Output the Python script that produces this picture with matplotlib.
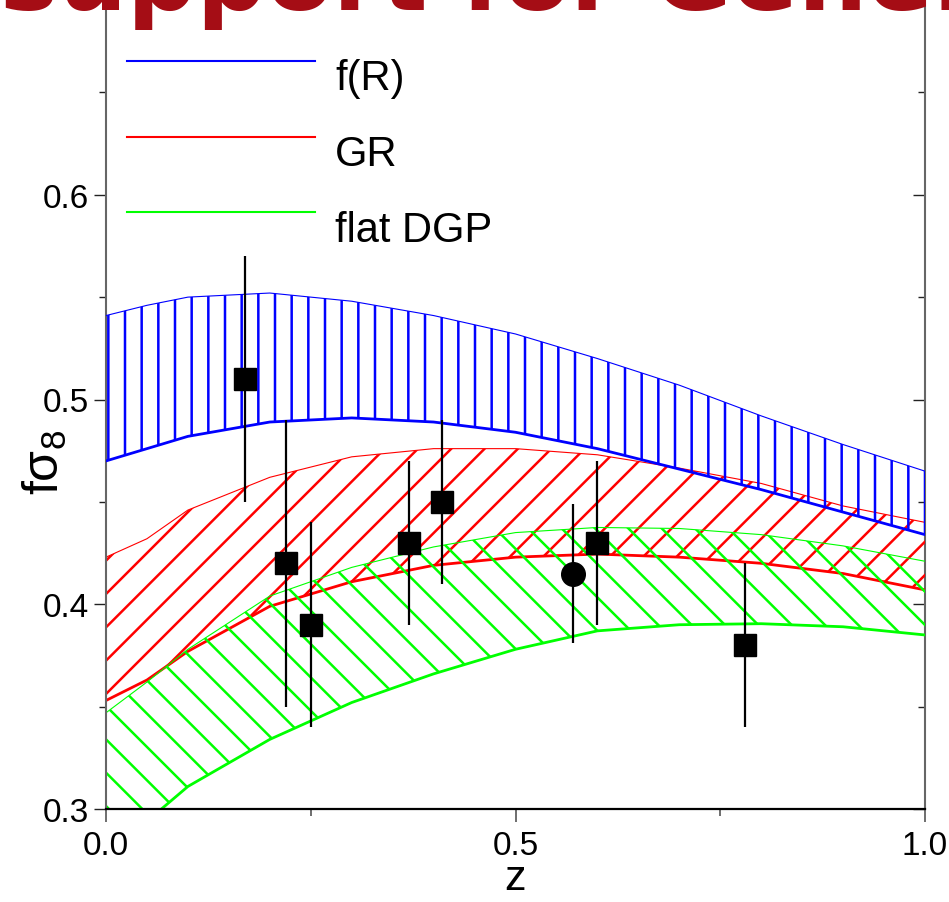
import numpy as np
import matplotlib
matplotlib.use('Agg')
import matplotlib.pyplot as plt
from matplotlib.lines import Line2D
from matplotlib.legend_handler import HandlerLine2D
from matplotlib.ticker import FixedLocator, FormatStrFormatter, MultipleLocator

plt.rcParams['font.family'] = ['Liberation Sans', 'DejaVu Sans']
plt.rcParams['mathtext.fontset'] = 'custom'
plt.rcParams['mathtext.rm'] = 'Liberation Sans'
plt.rcParams['mathtext.it'] = 'Liberation Sans:italic'
plt.rcParams['hatch.linewidth'] = 1.8

# redshift grid of the model predictions
z_grid = [0.0, 0.05, 0.1, 0.2, 0.3, 0.4, 0.5, 0.6, 0.7, 0.8, 0.9, 1.0]

# f(R) band
fr_hi = [0.541, 0.546, 0.550, 0.552, 0.548, 0.541, 0.532, 0.520, 0.507, 0.492, 0.478, 0.465]
fr_lo = [0.470, 0.476, 0.482, 0.489, 0.491, 0.489, 0.484, 0.476, 0.466, 0.456, 0.445, 0.434]

# GR band
gr_hi = [0.423, 0.432, 0.446, 0.462, 0.472, 0.476, 0.476, 0.473, 0.4665, 0.459, 0.448, 0.440]
gr_lo = [0.353, 0.363, 0.377, 0.399, 0.411, 0.419, 0.423, 0.4245, 0.423, 0.420, 0.415, 0.407]

# flat DGP band
dgp_hi = [0.347, 0.362, 0.378, 0.404, 0.418, 0.428, 0.435, 0.4375, 0.437, 0.434, 0.4285, 0.421]
dgp_lo = [0.280, 0.294, 0.311, 0.334, 0.352, 0.366, 0.378, 0.387, 0.390, 0.3905, 0.389, 0.385]

# growth measurements
sq_z = [0.17, 0.22, 0.25, 0.37, 0.41, 0.60, 0.78]
sq_f = [0.51, 0.42, 0.39, 0.43, 0.45, 0.43, 0.38]
sq_err = [0.06, 0.07, 0.05, 0.04, 0.04, 0.04, 0.04]
circ_z = [0.57]
circ_f = [0.415]
circ_err = [0.034]

labels = ['f(R)', 'GR', 'flat DGP']
colors = ['#0000ff', '#ff0000', '#00ff00']

y_major = [0.3, 0.4, 0.5, 0.6]
y_minor = [0.35, 0.45, 0.55, 0.65]


class RaisedLine(HandlerLine2D):
    # legend line sits a bit above the middle of its label
    def create_artists(self, legend, orig_handle, xdescent, ydescent,
                       width, height, fontsize, trans):
        arts = super().create_artists(legend, orig_handle, xdescent, ydescent,
                                      width, height, fontsize, trans)
        for a in arts:
            if hasattr(a, 'set_ydata'):
                a.set_ydata(np.asarray(a.get_ydata()) + 0.33 * fontsize)
        return arts


fig = plt.figure(figsize=(9.49, 9.03), dpi=100)
ax = fig.add_axes([106 / 949, 93 / 903, 819 / 949, 819 / 903])


def band(lo, hi, color, hatch, zo):
    ax.fill_between(z_grid, lo, hi, facecolor='none', edgecolor=color,
                    hatch=hatch, linewidth=0, zorder=zo)
    ax.plot(z_grid, hi, color=color, lw=0.8, zorder=zo)
    ax.plot(z_grid, lo, color=color, lw=2.0, zorder=zo)


band(gr_lo, gr_hi, colors[1], '/', 1)
band(dgp_lo, dgp_hi, colors[2], '\\', 2)
band(fr_lo, fr_hi, colors[0], '|', 3)

ax.errorbar(sq_z, sq_f, yerr=sq_err, fmt='s', color='k', ms=15.5,
            elinewidth=1.6, capsize=0, zorder=5)
ax.errorbar(circ_z, circ_f, yerr=circ_err, fmt='o', color='k', ms=17,
            elinewidth=1.6, capsize=0, zorder=5)

ax.set_xlim(0, 1)
ax.set_ylim(0.3, 0.7)
ax.xaxis.set_major_locator(MultipleLocator(0.5))
ax.xaxis.set_minor_locator(MultipleLocator(0.25))
ax.yaxis.set_major_locator(FixedLocator(y_major))
ax.yaxis.set_minor_locator(FixedLocator(y_minor))
ax.xaxis.set_major_formatter(FormatStrFormatter('%.1f'))
ax.yaxis.set_major_formatter(FormatStrFormatter('%.1f'))

ax.tick_params(axis='x', which='both', direction='out', top=False,
               labelsize=24, pad=6, color='#555555')
ax.tick_params(axis='x', which='major', length=9, width=1.2)
ax.tick_params(axis='x', which='minor', length=5, width=1.2)
ax.tick_params(axis='y', which='both', direction='out', labelsize=24,
               pad=3, color='#222222')
ax.tick_params(axis='y', which='major', length=9, width=1.0)
ax.tick_params(axis='y', which='minor', length=5, width=1.0)

# inward ticks on the right-hand side
ry = ax.secondary_yaxis('right')
ry.yaxis.set_major_locator(FixedLocator(y_major))
ry.yaxis.set_minor_locator(FixedLocator(y_minor))
ry.tick_params(which='both', direction='in', labelright=False, color='#222222')
ry.tick_params(which='major', length=9, width=1.0)
ry.tick_params(which='minor', length=5, width=1.0)
ry.spines['right'].set_color('#666666')
ry.spines['right'].set_linewidth(1.5)

ax.spines['right'].set_visible(False)
ax.spines['top'].set_visible(False)
ax.spines['left'].set_color('#666666')
ax.spines['left'].set_linewidth(1.5)
ax.spines['bottom'].set_color('black')
ax.spines['bottom'].set_linewidth(1.6)

ax.set_xlabel('z', fontsize=31)
ax.xaxis.set_label_coords(0.5, -0.060)
ax.set_ylabel(r'f$\mathregular{\sigma_8}$', fontsize=36)
ax.yaxis.set_label_coords(-0.045, 0.425)

handles = [Line2D([], [], color=c, lw=1.5) for c in colors]
ax.legend(handles, labels, loc='upper left', bbox_to_anchor=(21 / 819, 1 - 68 / 819),
          frameon=False, fontsize=30, handlelength=4.5, handletextpad=0.5,
          labelspacing=0.86, borderaxespad=0, borderpad=0,
          handler_map={Line2D: RaisedLine()})

fig.text(0, 1 - 10 / 903, 'support for General Relativity',
         family='DejaVu Sans', fontsize=70, fontweight='bold', color='#a50d15',
         va='baseline', ha='left')

fig.savefig('out.png', dpi=100)
